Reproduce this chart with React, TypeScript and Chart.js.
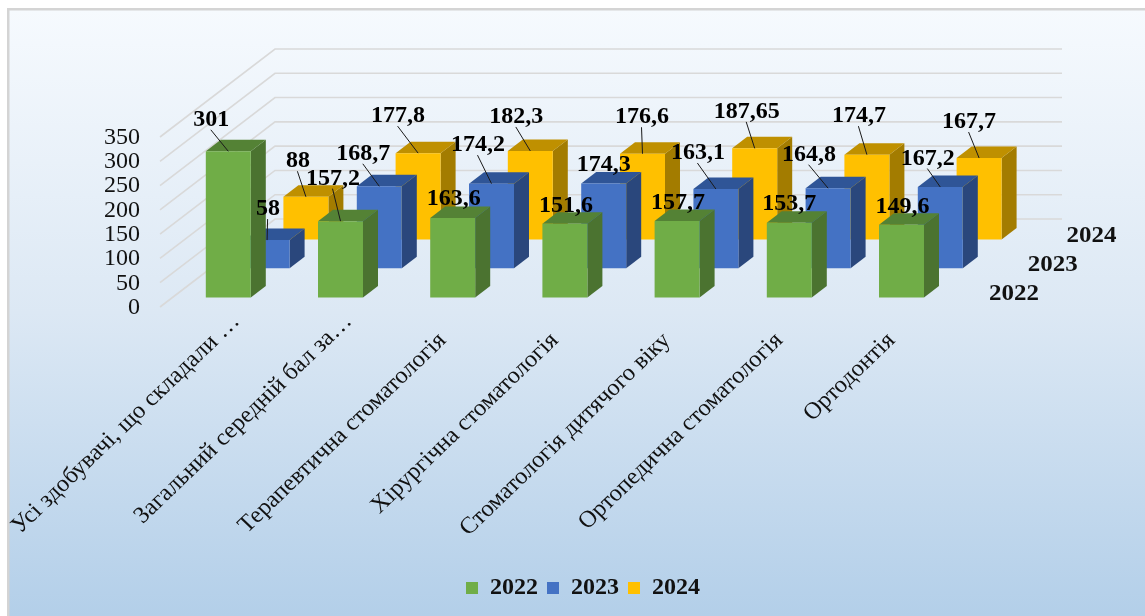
import React, { useEffect, useRef } from "react";
import { Chart, registerables } from "chart.js";

Chart.register(...registerables);

const categories = [
  "Усі здобувачі, що складали …",
  "Загальний середній бал за…",
  "Терапевтична стоматологія",
  "Хірургічна стоматологія",
  "Стоматологія дитячого віку",
  "Ортопедична стоматологія",
  "Ортодонтія",
];
const values2022 = [301, 157.2, 163.6, 151.6, 157.7, 153.7, 149.6];
const values2023 = [58, 168.7, 174.2, 174.3, 163.1, 164.8, 167.2];
const values2024 = [88, 177.8, 182.3, 176.6, 187.65, 174.7, 167.7];

// Manual data-label placement relative to the bar's top centre, as in the reference.
const labelOffsets = [
  [[-17, -33], [-7.5, -44], [1, -20.5], [1, -20], [1, -20], [0, -20.5], [1, -19.5]],
  [[1, -32.5], [-16, -34], [-13.5, -40], [0, -20], [-18, -37.5], [-19, -35], [-12.5, -30]],
  [[-8, -37], [-20, -38.5], [-14, -35.5], [-0.5, -38], [-8, -38], [-8, -40], [-10, -37.5]],
];
// Depth of each series row on the 3D floor.
const rowShift = [
  [22.2, -9],
  [61, -38.25],
  [99.8, -67],
];
const faceColors = [
  { top: "#548235", side: "#4B7330" },
  { top: "#2F5597", side: "#2A477C" },
  { top: "#BF9000", side: "#A37C00" },
];
const DEPTH_X = 15;
const DEPTH_Y = 11.5;
const SERIF = '"Liberation Serif", serif';
const STRETCH = 1.04;

function stretchedText(ctx: any, text: string, x: number, y: number, align: CanvasTextAlign, angle = 0) {
  ctx.save();
  ctx.translate(x, y);
  ctx.scale(STRETCH, 1);
  ctx.rotate(angle);
  ctx.textAlign = align;
  ctx.textBaseline = "middle";
  ctx.fillText(text, 0, 0);
  ctx.restore();
}

const backgroundPlugin = {
  id: "panel",
  afterLayout(chart: any) {
    // The legend is centred under the whole 3D plot, not under the front row.
    chart.legend.left = 0;
    chart.legend.right = 1166;
  },
  beforeDraw(chart: any) {
    const { ctx, width, height } = chart;
    ctx.save();
    ctx.fillStyle = "#ffffff";
    ctx.fillRect(0, 0, width, height);
    const g = ctx.createLinearGradient(0, 9, 0, height);
    g.addColorStop(0, "#f6fafe");
    g.addColorStop(0.5, "#dce8f4");
    g.addColorStop(1, "#b3cfe9");
    ctx.fillStyle = g;
    ctx.fillRect(8, 9, width - 8, height - 9);
    ctx.strokeStyle = "#d4d4d4";
    ctx.lineWidth = 2.5;
    ctx.beginPath();
    ctx.moveTo(8.25, height);
    ctx.lineTo(8.25, 9.25);
    ctx.lineTo(width, 9.25);
    ctx.stroke();
    ctx.restore();
  },
  beforeDatasetsDraw(chart: any) {
    const { ctx } = chart;
    const y = chart.scales.y;
    ctx.save();
    ctx.strokeStyle = "#d9d9d9";
    ctx.lineWidth = 1.6;
    y.ticks.forEach((_: any, i: number) => {
      const p = y.getPixelForTick(i) + 0.5;
      ctx.beginPath();
      ctx.moveTo(160, p);
      ctx.lineTo(275, p - 88);
      ctx.lineTo(1062, p - 88);
      ctx.stroke();
    });
    ctx.restore();
  },
  beforeDatasetDraw(chart: any, args: any) {
    const { ctx } = chart;
    const [dx, dy] = rowShift[args.index];
    const c = faceColors[args.index];
    ctx.save();
    ctx.translate(dx, dy);
    args.meta.data.forEach((el: any) => {
      const { x, y, width, base } = el.getProps(["x", "y", "width", "base"], true);
      const l = x - width / 2;
      const r = x + width / 2;
      ctx.fillStyle = c.side;
      ctx.beginPath();
      ctx.moveTo(r, y);
      ctx.lineTo(r + DEPTH_X, y - DEPTH_Y);
      ctx.lineTo(r + DEPTH_X, base - DEPTH_Y);
      ctx.lineTo(r, base);
      ctx.closePath();
      ctx.fill();
      ctx.fillStyle = c.top;
      ctx.beginPath();
      ctx.moveTo(l, y);
      ctx.lineTo(l + DEPTH_X, y - DEPTH_Y);
      ctx.lineTo(r + DEPTH_X, y - DEPTH_Y);
      ctx.lineTo(r, y);
      ctx.closePath();
      ctx.fill();
    });
  },
  afterDatasetDraw(chart: any) {
    chart.ctx.restore();
  },
  afterDatasetsDraw(chart: any) {
    const { ctx } = chart;
    const xs = chart.scales.x;
    const baseY = chart.scales.y.getPixelForValue(0);
    // Category labels
    ctx.save();
    ctx.fillStyle = "#111111";
    ctx.font = `23.6px ${SERIF}`;
    chart.data.labels.forEach((t: string, i: number) => {
      const cut = t.endsWith("…");
      const px = xs.getPixelForTick(i) + (cut ? 30 : 12);
      const py = baseY + (cut ? 11.5 : 30.5);
      stretchedText(ctx, t, px, py, "right", -Math.PI / 4);
    });
    ctx.restore();
    // Data labels with leader lines, then series-axis labels
    ctx.save();
    chart.data.datasets.forEach((ds: any, si: number) => {
      const meta = chart.getDatasetMeta(si);
      const [dx, dy] = rowShift[si];
      meta.data.forEach((el: any, i: number) => {
        const bx = el.x + dx;
        const by = el.y + dy;
        const [ox, oy] = labelOffsets[si][i];
        const lx = bx + ox;
        const ly = by + oy;
        if (by - ly > 25) {
          ctx.strokeStyle = "#1a1a1a";
          ctx.lineWidth = 1;
          ctx.beginPath();
          ctx.moveTo(lx - 0.5, ly + 11.5);
          ctx.lineTo(bx, by);
          ctx.stroke();
        }
        ctx.fillStyle = "#000000";
        ctx.font = `bold 24px ${SERIF}`;
        ctx.textAlign = "center";
        ctx.textBaseline = "middle";
        ctx.fillText(String(ds.data[i]).replace(".", ","), lx, ly + 1.5);
      });
      const last = meta.data[meta.data.length - 1];
      ctx.fillStyle = "#111111";
      ctx.font = `bold 24px ${SERIF}`;
      stretchedText(ctx, ds.label, last.x + dx + 112.4, baseY + dy - 3.5, "center");
    });
    ctx.restore();
  },
};

export default function App() {
  const ref = useRef<HTMLCanvasElement>(null);
  useEffect(() => {
    const chart = new Chart(ref.current as HTMLCanvasElement, {
      type: "bar",
      data: {
        labels: categories,
        datasets: [
          { label: "2022", data: values2022, backgroundColor: "#70AD47", clip: false },
          { label: "2023", data: values2023, backgroundColor: "#4472C4", clip: false },
          { label: "2024", data: values2024, backgroundColor: "#FFC000", clip: false },
        ],
      } as any,
      options: {
        animation: false,
        responsive: false,
        layout: { padding: { top: 136.5, right: 209.6, bottom: 6, left: 0 } },
        datasets: { bar: { grouped: false, barPercentage: 0.401, categoryPercentage: 1 } },
        scales: {
          x: {
            grid: { display: false },
            border: { display: false },
            ticks: { display: false, autoSkip: false },
            afterFit(s: any) {
              s.height = 260.5;
            },
          },
          y: {
            min: 0,
            max: 350,
            grid: { display: false },
            border: { display: false },
            ticks: {
              stepSize: 50,
              autoSkip: false,
              padding: 2,
              labelOffset: 1,
              color: "#111111",
              font: { family: SERIF, size: 24 },
            },
            afterFit(s: any) {
              s.width = 150;
            },
          },
        },
        plugins: {
          title: { display: false },
          tooltip: { enabled: false },
          legend: {
            position: "bottom",
            labels: {
              boxWidth: 12,
              boxHeight: 12,
              padding: 9,
              color: "#111111",
              font: { family: SERIF, size: 24, weight: "bold" },
            },
          },
        },
      } as any,
      plugins: [backgroundPlugin],
    });
    return () => chart.destroy();
  }, []);
  return (
    <div style={{ position: "absolute", left: 0, top: 0, width: 1145, height: 616 }}>
      <canvas ref={ref} width={1145} height={616} style={{ display: "block" }} />
    </div>
  );
}
